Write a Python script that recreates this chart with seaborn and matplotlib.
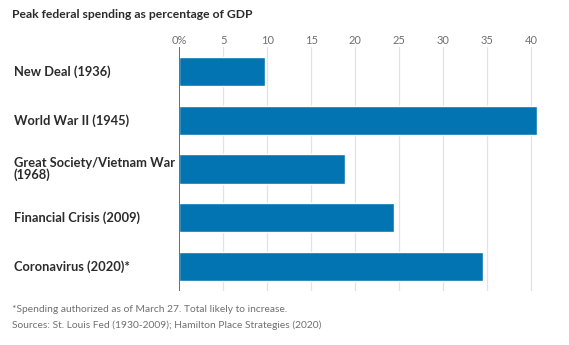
import matplotlib
matplotlib.use("Agg")
import matplotlib.pyplot as plt
import matplotlib.transforms as mtransforms
import seaborn as sns
import pandas as pd

# Peak federal spending, % of GDP
categories = [
    "New Deal (1936)",
    "World War II (1945)",
    "Great Society/Vietnam War\n(1968)",
    "Financial Crisis (2009)",
    "Coronavirus (2020)*",
]
spending_pct = [9.7, 40.7, 18.9, 24.4, 34.6]
x_ticks = [0, 5, 10, 15, 20, 25, 30, 35, 40]
x_tick_labels = ["0%", "5", "10", "15", "20", "25", "30", "35", "40"]

title = "Peak federal spending as percentage of GDP"
footnote = "*Spending authorized as of March 27. Total likely to increase."
sources = "Sources: St. Louis Fed (1930-2009); Hamilton Place Strategies (2020)"

df = pd.DataFrame({"category": categories, "pct": spending_pct})

sns.set_theme(style="white")
plt.rcParams["font.family"] = ["Lato", "DejaVu Sans"]

BLUE = "#0274b1"
DARK = "#2b2b2b"
GRAY = "#707070"
SMALL = ["Lato", "DejaVu Sans"]

fig = plt.figure(figsize=(5.69, 3.45), dpi=100)
W, H = 569, 345
left, right, top, bottom = 179.3, 541.5, 47, 291
ax = fig.add_axes([left / W, 1 - bottom / H, (right - left) / W, (bottom - top) / H])

sns.barplot(data=df, x="pct", y="category", color=BLUE, width=0.6,
            saturation=1, ax=ax, zorder=3)

ax.set_xlim(0, 41.2)
ax.set_ylim(4.5, -0.5)
ax.set_xlabel("")
ax.set_ylabel("")

# gridlines and zero baseline
for v in x_ticks[1:]:
    ax.axvline(v, color="#e3e3e3", lw=0.9, zorder=1)
ax.axvline(0, color="#444444", lw=1.1, zorder=4)

for s in ax.spines.values():
    s.set_visible(False)

ax.xaxis.tick_top()
ax.set_xticks(x_ticks)
ax.set_xticklabels(x_tick_labels, family=SMALL, fontweight="normal",
                   fontsize=8, color=GRAY)
ax.tick_params(axis="x", length=0, pad=1)

# category labels, left aligned at the figure margin
ax.set_yticks(range(len(categories)))
ax.set_yticklabels([])
ax.tick_params(axis="y", length=0)
trans = mtransforms.blended_transform_factory(fig.transFigure, ax.transData)
for i, lab in enumerate(categories):
    ax.text(14 / W, i, lab, transform=trans, ha="left", va="center",
            fontsize=9.3, fontweight="bold", color=DARK, linespacing=0.95)

fig.text(12 / W, 1 - 15 / H, title, ha="left", va="center",
         fontsize=8.7, fontweight="bold", color=DARK)
fig.text(12 / W, 1 - 309 / H, footnote, ha="left", va="center",
         family=SMALL, fontweight="normal", fontsize=7.4, color=GRAY)
fig.text(12 / W, 1 - 325 / H, sources, ha="left", va="center",
         family=SMALL, fontweight="normal", fontsize=7.4, color=GRAY)

fig.savefig("out.png", dpi=100)
